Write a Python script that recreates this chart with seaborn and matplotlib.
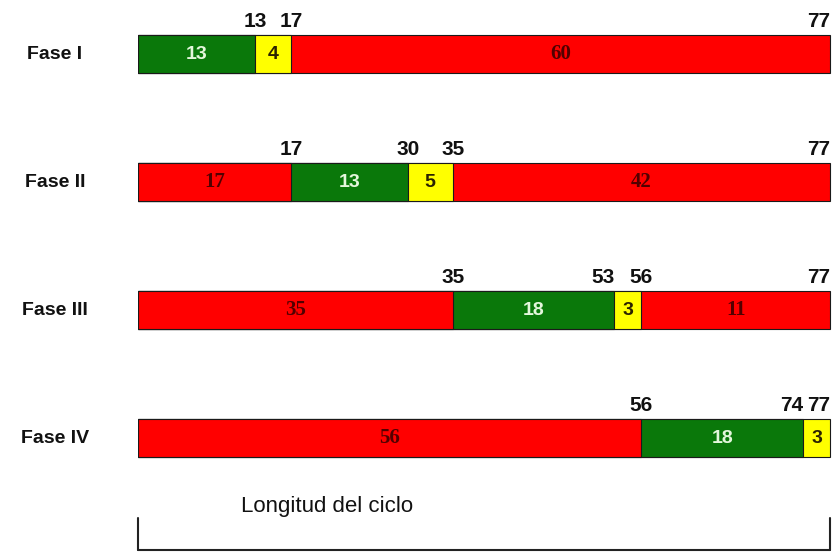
import pandas as pd
import matplotlib.pyplot as plt
import seaborn as sns
from matplotlib.lines import Line2D

# Datos del ciclo semaforico
fases = ["Fase I", "Fase II", "Fase III", "Fase IV"]
# instantes de cambio de cada fase (rotulos sobre la barra)
cambios = [[13, 17, 77], [17, 30, 35, 77], [35, 53, 56, 77], [56, 74, 77]]
# duraciones tal como aparecen rotuladas dentro de cada tramo
rotulos = [[13, 4, 60], [17, 13, 5, 42], [35, 18, 3, 11], [56, 18, 3]]
estados = [["verde", "amarillo", "rojo"],
           ["rojo", "verde", "amarillo", "rojo"],
           ["rojo", "verde", "amarillo", "rojo"],
           ["rojo", "verde", "amarillo"]]
ciclo = 77

colores = {"verde": "#0a780a", "amarillo": "#ffff00", "rojo": "#ff0000"}
texto_col = {"verde": "#e4f7dc", "amarillo": "#2a2200", "rojo": "#520000"}

# Tabla larga con inicio / fin de cada intervalo
filas = []
for fase, fins, rots, ests in zip(fases, cambios, rotulos, estados):
    inicio = 0
    for k, (fin, rot, e) in enumerate(zip(fins, rots, ests)):
        sig = fins[k + 1] if k + 1 < len(fins) else None
        filas.append({"fase": fase, "capa": k, "inicio": inicio, "fin": fin,
                      "rotulo": rot, "estado": e, "siguiente": sig})
        inicio = fin
df = pd.DataFrame(filas)

sns.set_style("white")
fig = plt.figure(figsize=(8.32, 5.58), dpi=100)
ax = fig.add_axes([138 / 832, 58 / 558, 1 - 138 / 832, 500 / 558])

# Barras apiladas: se dibuja del ultimo tramo al primero, cada uno hasta su fin
for k in sorted(df["capa"].unique(), reverse=True):
    sub = df[df["capa"] == k]
    pal = {f: colores[e] for f, e in zip(sub["fase"], sub["estado"])}
    sns.barplot(data=sub, x="fin", y="fase", hue="fase", order=fases, palette=pal,
                dodge=False, width=0.3, legend=False, errorbar=None,
                edgecolor="#1a1a1a", linewidth=0.8, saturation=1, ax=ax)

pos = {f: i for i, f in enumerate(fases)}
for _, r in df.iterrows():
    y = pos[r["fase"]]
    if r["estado"] == "rojo":
        ax.text((r["inicio"] + r["fin"]) / 2, y, str(r["rotulo"]), ha="center",
                va="center", fontsize=15, fontweight="bold", family="Liberation Serif",
                color=texto_col[r["estado"]])
    else:
        ax.text((r["inicio"] + r["fin"]) / 2, y, str(r["rotulo"]), ha="center",
                va="center", fontsize=14, fontweight="bold", family="Liberation Sans",
                color=texto_col[r["estado"]])
    # rotulo del instante de cambio
    if r["fin"] == ciclo:
        ha = "right"
    elif r["siguiente"] is not None and r["siguiente"] - r["fin"] <= 3:
        ha = "right"
    else:
        ha = "center"
    ax.text(r["fin"], y - 0.18, str(r["fin"]), ha=ha, va="bottom", fontsize=15,
            fontweight="bold", family="Liberation Sans", color="#111111")

for f in fases:
    ax.text(-0.1196, pos[f], f, transform=ax.get_yaxis_transform(), ha="center",
            va="center", fontsize=14, fontweight="bold", family="Liberation Sans",
            color="#111111")

ax.set_xlim(0, ciclo + 0.2)
ax.set_ylim(3.484, -0.422)
ax.set_axis_off()

# Escala de la longitud del ciclo
x0, x1 = 138 / 832, 830 / 832
fig.add_artist(Line2D([x0, x1], [0.0143, 0.0143], color="#222222", lw=1.5))
fig.add_artist(Line2D([x0, x0], [0.0143, 0.0717], color="#222222", lw=1.5))
fig.add_artist(Line2D([x1, x1], [0.0143, 0.0717], color="#222222", lw=1.5))
fig.text(327 / 832, 0.092, "Longitud del ciclo", ha="center", va="center", fontsize=16,
         family="Liberation Sans", color="#111111")

fig.savefig("out.png", dpi=100)
